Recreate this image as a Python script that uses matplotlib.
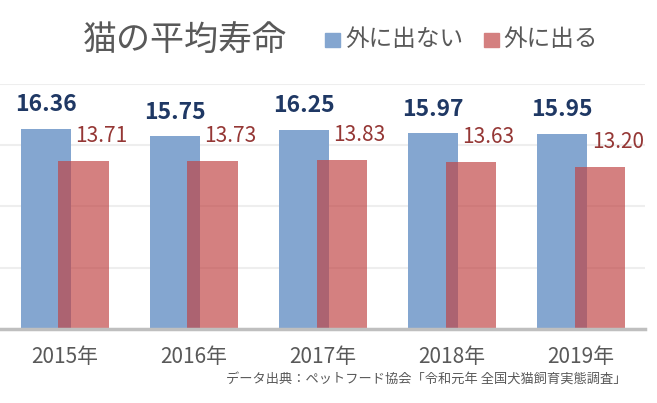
import matplotlib
matplotlib.use('Agg')
import matplotlib.pyplot as plt
import numpy as np
from matplotlib.patches import Rectangle

plt.rcParams['font.family'] = ['Noto Sans CJK JP', 'DejaVu Sans']

years = ['2015年', '2016年', '2017年', '2018年', '2019年']
indoor = [16.36, 15.75, 16.25, 15.97, 15.95]
outdoor = [13.71, 13.73, 13.83, 13.63, 13.20]
indoor_label = '外に出ない'
outdoor_label = '外に出る'
title = '猫の平均寿命'
source = 'データ出典：ペットフード協会「令和元年 全国犬猫飼育実態調査」'

blue = '#84a6d0'
red = '#c04444'
gray = '#595959'

fig = plt.figure(figsize=(6.57, 4.03), dpi=100)
ax = fig.add_axes([0.0, 0.1836, 0.982, 0.608])

x = np.arange(len(years))
w = 0.388
off = 0.147
ax.bar(x - off, indoor, w, color=blue, zorder=2)
ax.bar(x + off, outdoor, w, color=red, alpha=0.68, zorder=3)

for i in range(len(years)):
    ax.annotate(f'{indoor[i]:.2f}', (x[i] - off, indoor[i]), xytext=(0, 9),
                textcoords='offset points', ha='center', va='bottom',
                fontsize=16.5, fontweight='bold', color='#1f3864')
    ax.annotate(f'{outdoor[i]:.2f}', (x[i] + off, outdoor[i]), xytext=(13, 10),
                textcoords='offset points', ha='center', va='bottom',
                fontsize=15, color='#953735')

ax.set_xlim(-0.5, 4.5)
ax.set_ylim(0, 20)
ax.set_yticks([5, 10, 15, 20])
ax.yaxis.grid(True, color='#eeeeee', linewidth=1.5, zorder=0)
ax.set_axisbelow(True)
ax.tick_params(axis='y', left=False, labelleft=False)
ax.tick_params(axis='x', bottom=False, pad=9, labelsize=15, labelcolor=gray)
ax.set_xticks(x)
ax.set_xticklabels(years)
for s in ['top', 'right', 'left']:
    ax.spines[s].set_visible(False)
ax.spines['bottom'].set_color('#bfbfbf')
ax.spines['bottom'].set_linewidth(2.5)
ax.spines['bottom'].set_zorder(5)

fig.text(83 / 657, 1 - 41 / 403, title, fontsize=24.5, color=gray, va='center', ha='left')
fig.patches.append(Rectangle((325 / 657, 1 - 47 / 403), 15 / 657, 14 / 403,
                             transform=fig.transFigure, color=blue, figure=fig))
fig.text(345 / 657, 1 - 39 / 403, indoor_label, fontsize=17, color=gray, va='center', ha='left')
fig.patches.append(Rectangle((484 / 657, 1 - 47 / 403), 15 / 657, 14 / 403,
                             transform=fig.transFigure, color='#d48080', figure=fig))
fig.text(503 / 657, 1 - 39 / 403, outdoor_label, fontsize=17, color=gray, va='center', ha='left')

fig.text(626 / 657, 1 - 380 / 403, source, fontsize=9.5, color=gray, va='center', ha='right')

fig.savefig('out.png', dpi=100)
